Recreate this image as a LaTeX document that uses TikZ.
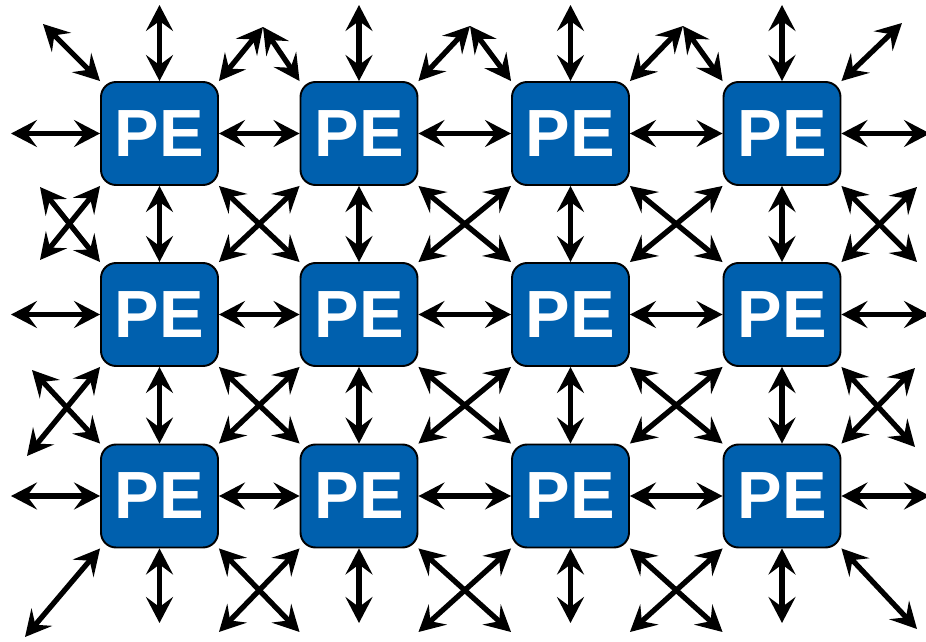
\documentclass[tikz,border=0pt]{standalone}
\usepackage{fontspec}
\setsansfont{Liberation Sans}[BoldFont={Liberation Sans Bold}]
\usepackage{tikz}
\usetikzlibrary{arrows.meta}

\definecolor{peblue}{RGB}{0,96,174}

\begin{document}
\begin{tikzpicture}[x=0.02cm,y=-0.02cm,
                    >={Stealth[length=0.52cm,width=0.54cm,inset=0.2cm]},
                    pe/.style={rectangle,rounded corners=0.3cm,draw=black,line width=1.1pt,
                               fill=peblue,text=white,minimum width=2.34cm,minimum height=2.06cm,
                               font=\sffamily\bfseries\fontsize{38}{40}\selectfont},
                    link/.style={<->,line width=3pt}]

  \useasboundingbox (0,0) rectangle (926,642);

  % processing elements, rows A to C
  \node[pe] (A1) at (159.5,133.5) {PE};
  \node[pe] (A2) at (359,133.5)   {PE};
  \node[pe] (A3) at (570.5,133.5) {PE};
  \node[pe] (A4) at (782,133.5)   {PE};

  \node[pe] (B1) at (159.5,314.5) {PE};
  \node[pe] (B2) at (359,314.5)   {PE};
  \node[pe] (B3) at (570.5,314.5) {PE};
  \node[pe] (B4) at (782,314.5)   {PE};

  \node[pe] (C1) at (159.5,496) {PE};
  \node[pe] (C2) at (359,496)   {PE};
  \node[pe] (C3) at (570.5,496) {PE};
  \node[pe] (C4) at (782,496)   {PE};

  % free ends of the outer links
  \coordinate (xl) at (11,0);
  \coordinate (xr) at (930,0);
  \coordinate (yt) at (0,5);
  \coordinate (yb) at (0,623);
  \coordinate (yd) at (0,632);

  \coordinate (tl) at (43,24);
  \coordinate (P1) at (263,27);
  \coordinate (P2) at (470,26);
  \coordinate (P3) at (683,26);
  \coordinate (tr) at (902,23);

  \coordinate (L1a) at (40,187);
  \coordinate (L1b) at (40,260);
  \coordinate (L2a) at (32,370);
  \coordinate (L2b) at (27,456);
  \coordinate (R1a) at (917,187);
  \coordinate (R1b) at (917,262);
  \coordinate (R2a) at (915,368);
  \coordinate (R2b) at (915,447);

  \coordinate (bl) at (25,637);
  \coordinate (br) at (917,629);

  % horizontal links
  \path[link] (xl |- A1) edge (A1) (A1) edge (A2) (A2) edge (A3) (A3) edge (A4) (A4) edge (xr |- A4)
              (xl |- B1) edge (B1) (B1) edge (B2) (B2) edge (B3) (B3) edge (B4) (B4) edge (xr |- B4)
              (xl |- C1) edge (C1) (C1) edge (C2) (C2) edge (C3) (C3) edge (C4) (C4) edge (xr |- C4);

  % vertical links
  \path[link] (A1 |- yt) edge (A1) (A1) edge (B1) (B1) edge (C1) (C1) edge (C1 |- yb)
              (A2 |- yt) edge (A2) (A2) edge (B2) (B2) edge (C2) (C2) edge (C2 |- yb)
              (A3 |- yt) edge (A3) (A3) edge (B3) (B3) edge (C3) (C3) edge (C3 |- yb)
              (A4 |- yt) edge (A4) (A4) edge (B4) (B4) edge (C4) (C4) edge (C4 |- yb);

  % diagonal links above row A
  \path[link] (A1.north west) edge (tl)
              (A1.north east) edge (P1) (P1) edge (A2.north west)
              (A2.north east) edge (P2) (P2) edge (A3.north west)
              (A3.north east) edge (P3) (P3) edge (A4.north west)
              (A4.north east) edge (tr);

  % diagonal links between rows A and B
  \path[link] (A1.south west) edge (L1b) (L1a) edge (B1.north west)
              (A1.south east) edge (B2.north west) (A2.south west) edge (B1.north east)
              (A2.south east) edge (B3.north west) (A3.south west) edge (B2.north east)
              (A3.south east) edge (B4.north west) (A4.south west) edge (B3.north east)
              (A4.south east) edge (R1b) (R1a) edge (B4.north east);

  % diagonal links between rows B and C
  \path[link] (B1.south west) edge (L2b) (L2a) edge (C1.north west)
              (B1.south east) edge (C2.north west) (B2.south west) edge (C1.north east)
              (B2.south east) edge (C3.north west) (B3.south west) edge (C2.north east)
              (B3.south east) edge (C4.north west) (B4.south west) edge (C3.north east)
              (B4.south east) edge (R2b) (R2a) edge (C4.north east);

  % diagonal links below row C
  \path[link] (C1.south west) edge (bl)
              (C1.south east) edge (C2.south west |- yd) (C2.south west) edge (C1.south east |- yd)
              (C2.south east) edge (C3.south west |- yd) (C3.south west) edge (C2.south east |- yd)
              (C3.south east) edge (C4.south west |- yd) (C4.south west) edge (C3.south east |- yd)
              (C4.south east) edge (br);
\end{tikzpicture}
\end{document}
